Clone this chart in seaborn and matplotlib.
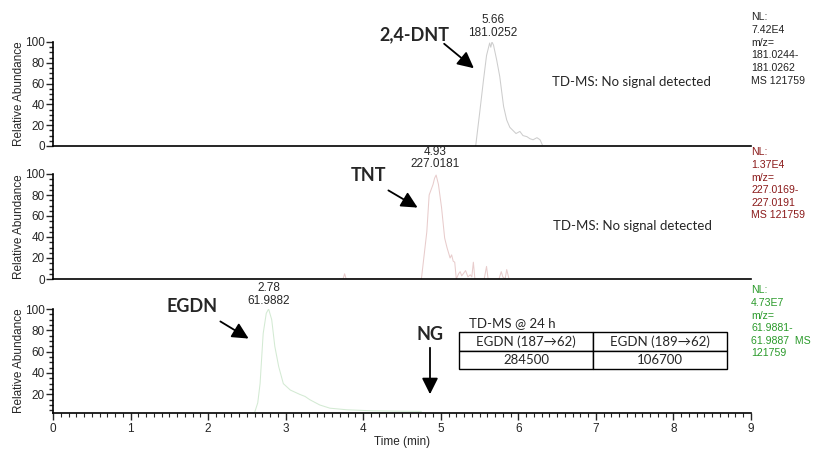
import numpy as np
import pandas as pd
import matplotlib
matplotlib.use("Agg")
import matplotlib.pyplot as plt
from matplotlib.ticker import MultipleLocator
from matplotlib.patches import FancyArrowPatch
import seaborn as sns

# ---------------- data ----------------
dnt_t = [5.45, 5.50, 5.55, 5.59, 5.63, 5.645, 5.66, 5.68, 5.72, 5.76, 5.81, 5.85,
         5.89, 5.93, 5.97, 6.02, 6.06, 6.11, 6.15, 6.19, 6.24, 6.28, 6.31]
dnt_y = [0, 31, 63, 87, 99, 95, 100, 97, 83, 67, 38, 25,
         18, 15, 12, 14, 10, 9, 7, 6, 8, 6, 1]

tnt_t = [3.70, 3.74, 3.76, 3.78, 4.75, 4.82, 4.85, 4.88, 4.90, 4.92, 4.94, 4.97,
         5.01, 5.05, 5.08, 5.10, 5.12, 5.14, 5.16, 5.18, 5.20, 5.23, 5.25, 5.27,
         5.30, 5.32, 5.35, 5.38, 5.40, 5.42, 5.44, 5.56, 5.59, 5.61, 5.75, 5.78,
         5.80, 5.83, 5.85, 5.88]
tnt_y = [0, 0, 5, 0, 0, 45, 80, 86, 90, 96, 99, 90,
         68, 39, 30, 25, 20, 23, 17, 16, 0, 5, 7, 3,
         6, 8, 2, 4, 2, 16, 0, 0, 12, 0, 0, 7,
         2, 0, 9, 0]

egdn_t = [2.60, 2.64, 2.67, 2.71, 2.75, 2.78, 2.82, 2.86, 2.91, 2.97, 3.06, 3.18,
          3.25, 3.31, 3.44, 3.57, 3.79, 4.13, 4.45, 4.75]
egdn_y = [3, 12, 30, 77, 96, 100, 90, 65, 46, 30, 24, 20,
          18, 15, 10, 7, 5.5, 4.5, 4.2, 4]

peak_labels = [("5.66", "181.0252"), ("4.93", "227.0181"), ("2.78", "61.9882")]
nl_texts = [
    ["NL:", "7.42E4", "m/z=", "181.0244-", "181.0262", "MS 121759"],
    ["NL:", "1.37E4", "m/z=", "227.0169-", "227.0191", "MS 121759"],
    ["NL:", "4.73E7", "m/z=", "61.9881-", "61.9887  MS", "121759"],
]
table_header = ["EGDN (187\u219262)", "EGDN (189\u219262)"]
table_values = ["284500", "106700"]
x_ticks = [0, 1, 2, 3, 4, 5, 6, 7, 8, 9]

# ---------------- style ----------------
sns.set_style("white")
plt.rcParams['font.family'] = ['Liberation Sans', 'DejaVu Sans']
W, H = 813, 449
fig = plt.figure(figsize=(W / 100, H / 100), dpi=100)


def fx(x):
    return x / W


def fy(y):
    return 1 - y / H


def make_ax(top, bottom, ylim):
    ax = fig.add_axes([fx(53), fy(bottom), fx(751) - fx(53), fy(top) - fy(bottom)])
    ax.set_xlim(0, 9)
    ax.set_ylim(*ylim)
    for s in ["top", "right"]:
        ax.spines[s].set_visible(False)
    for s in ["left", "bottom"]:
        ax.spines[s].set_color("black")
        ax.spines[s].set_linewidth(1.2)
    ax.yaxis.set_major_locator(MultipleLocator(20))
    ax.yaxis.set_minor_locator(MultipleLocator(5))
    ax.tick_params(axis="y", which="major", direction="out", length=5, width=1,
                   labelsize=8.5, pad=1, left=True)
    ax.tick_params(axis="y", which="minor", direction="out", length=3, width=1, left=True)
    ax.patch.set_alpha(0)
    return ax


ax1 = make_ax(42, 146, (0, 100))
ax2 = make_ax(174, 279, (0, 100))
ax3 = make_ax(309, 413.3, (2.2, 100))

df1 = pd.DataFrame({"t": dnt_t, "y": dnt_y})
df2 = pd.DataFrame({"t": tnt_t, "y": tnt_y})
df3 = pd.DataFrame({"t": egdn_t, "y": egdn_y})
sns.lineplot(data=df1, x="t", y="y", ax=ax1, color="#cdcdcd", lw=0.75, sort=False)
sns.lineplot(data=df2, x="t", y="y", ax=ax2, color="#e8cccc", lw=0.75, sort=False)
sns.lineplot(data=df3, x="t", y="y", ax=ax3, color="#d3ead3", lw=0.75, sort=False)

for ax in (ax1, ax2, ax3):
    ax.set_ylabel("Relative Abundance", fontsize=8.5, labelpad=2)
    ax.set_xlabel("")

for ax in (ax1, ax2):
    ax.set_xticks([])
    ax.set_yticks([0, 20, 40, 60, 80, 100])
    ax.set_yticklabels(["0", "20", "40", "60", "80", "100"])

ax3.set_yticks([20, 40, 60, 80, 100])
ax3.set_yticklabels(["20", "40", "60", "80", "100"])
ax3.set_xticks(x_ticks)
ax3.set_xticklabels([str(v) for v in x_ticks])
ax3.xaxis.set_minor_locator(MultipleLocator(0.1))
ax3.tick_params(axis="x", which="major", direction="out", length=5, width=1,
                labelsize=8.5, pad=2, bottom=True)
ax3.tick_params(axis="x", which="minor", direction="out", length=3, width=0.8, bottom=True)
ax3.set_xlabel("Time (min)", fontsize=8.5, labelpad=1)

for ax in (ax1, ax2, ax3):
    ax.yaxis.set_label_coords(-0.04, 0.5)

# ---------------- peak labels ----------------
pk_pos = [(493, 20, 32.5), (435, 152, 164.5), (269, 288, 300.5)]
for (a, b), (x, y1, y2) in zip(peak_labels, pk_pos):
    fig.text(fx(x), fy(y1), a, ha="center", va="center", fontsize=8.5)
    fig.text(fx(x), fy(y2), b, ha="center", va="center", fontsize=8.5)

# ---------------- NL texts ----------------
nl_colors = ["#222222", "#8b1a1a", "#2a9a2a"]
nl_y = [[17, 30, 43, 55.5, 68, 80.5], [152, 165, 178, 190, 202.5, 215],
        [290, 302.5, 316, 328, 340.5, 353]]
for lines, col, ys in zip(nl_texts, nl_colors, nl_y):
    for s, y in zip(lines, ys):
        fig.text(fx(751), fy(y), s, ha="left", va="center", fontsize=7.6, color=col)

# ---------------- compound names and arrows ----------------
bold = dict(fontsize=13, fontweight="bold", family=["Lato", "DejaVu Sans"])
fig.text(fx(414), fy(35), "2,4-DNT", ha="center", va="center", **bold)
fig.text(fx(368), fy(176), "TNT", ha="center", va="center", **bold)
fig.text(fx(192), fy(306), "EGDN", ha="center", va="center", **bold)
fig.text(fx(430), fy(334), "NG", ha="center", va="center", **bold)


def arrow(x0, y0, x1, y1):
    a = FancyArrowPatch((fx(x0), fy(y0)), (fx(x1), fy(y1)), transform=fig.transFigure,
                        arrowstyle="-|>,head_length=0.7,head_width=0.35",
                        mutation_scale=14, color="black", lw=1.3)
    fig.add_artist(a)


arrow(442, 42, 476, 70)
arrow(386, 189, 420, 209)
arrow(218, 320, 251, 340)
arrow(430, 345, 430, 397)

# ---------------- TD-MS notes ----------------
note = dict(fontsize=9.5, family=["Lato", "DejaVu Sans"])
fig.text(fx(631), fy(82), "TD-MS: No signal detected", ha="center", va="center", **note)
fig.text(fx(632), fy(226), "TD-MS: No signal detected", ha="center", va="center", **note)
fig.text(fx(469), fy(323), "TD-MS @ 24 h", ha="left", va="center", **note)

tbl = ax3.table(cellText=[table_header, table_values], cellLoc="center",
                bbox=[(459.3 - 53) / 698, (413.3 - 369.3) / 104.3,
                      (727.3 - 459.3) / 698, (369.3 - 332.3) / 104.3])
tbl.auto_set_font_size(False)
for (r, c), cell in tbl.get_celld().items():
    cell.set_edgecolor("black")
    cell.set_linewidth(1.0)
    cell.set_facecolor("white")
    cell.get_text().set_fontsize(9.5)
    cell.get_text().set_fontfamily(["Lato", "DejaVu Sans"])

fig.savefig("out.png", dpi=100)
